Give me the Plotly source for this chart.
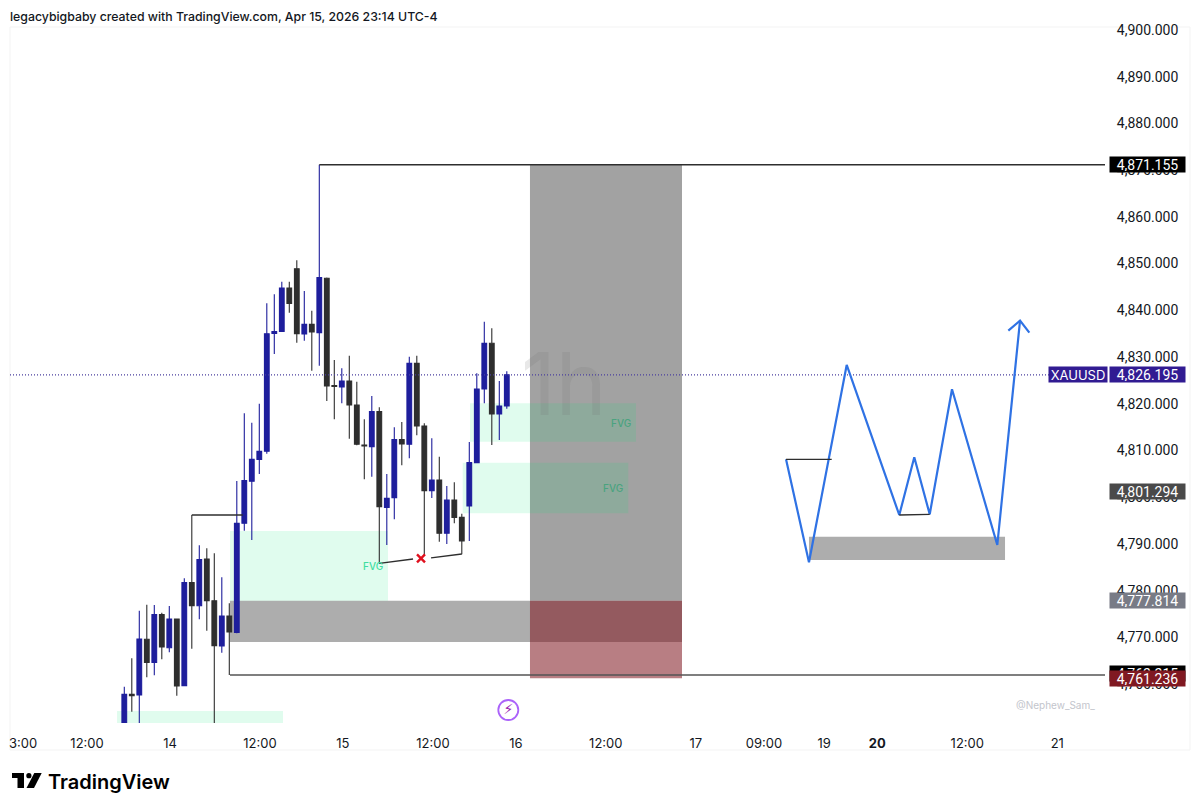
"""XAUUSD 1h TradingView snapshot with FVG zones and a projected path."""
import plotly.graph_objects as go

# candles (bar index = position in these lists)
bar_open = [4748.0, 4757.80, 4757.66, 4769.58, 4764.65, 4774.86, 4767.79, 4773.93, 4759.66, 4781.71,
            4776.78, 4786.77, 4777.85, 4768.15, 4774.57, 4771.07, 4794.41, 4803.40, 4808.10, 4809.82,
            4835.07, 4835.5, 4844.78, 4848.91, 4834.93, 4837.0, 4835.22, 4846.85, 4823.9, 4823.59,
            4824.87, 4819.74, 4811.17, 4810.82, 4818.31, 4797.83, 4799.9, 4812.32, 4811.32, 4828.65,
            4815.24, 4801.4, 4803.68, 4792.27, 4799.4, 4795.69, 4798.12, 4807.39, 4823.16, 4832.94,
            4817.81, 4819.52]
bar_high = [4759.44, 4765.51, 4775.71, 4777.0, 4776.93, 4775.28, 4776.71, 4773.93, 4782.63, 4796.19,
            4789.70, 4789.05, 4787.98, 4782.85, 4777.28, 4803.47, 4817.95, 4815.95, 4820.02, 4841.49,
            4843.42, 4846.13, 4846.13, 4850.7, 4844.13, 4839.92, 4871.155, 4847.0, 4829.37, 4827.58,
            4830.3, 4824.73, 4816.67, 4821.66, 4819.24, 4804.97, 4814.96, 4816.1, 4830.08, 4830.3,
            4815.81, 4812.6, 4808.68, 4802.4, 4803.18, 4796.48, 4811.82, 4826.51, 4837.57, 4836.15,
            4824.87, 4826.94]
bar_low = [4747.0, 4754.09, 4745.0, 4761.44, 4761.87, 4765.30, 4766.79, 4757.52, 4759.66, 4767.58,
           4773.86, 4771.43, 4745.0, 4766.72, 4761.94, 4770.86, 4792.84, 4790.84, 4804.96, 4809.32,
           4830.65, 4835.5, 4839.5, 4833.08, 4833.5, 4827.08, 4828.15, 4820.59, 4816.67, 4820.09,
           4812.53, 4811.1, 4803.83, 4804.4, 4785.85, 4789.77, 4795.26, 4806.82, 4808.32, 4813.24,
           4787.63, 4799.83, 4790.48, 4789.98, 4794.41, 4787.77, 4790.63, 4807.39, 4820.09, 4811.17,
           4812.24, 4818.95]
bar_close = [4757.80, 4757.50, 4769.65, 4764.65, 4774.86, 4767.94, 4773.93, 4759.59, 4781.71, 4776.78,
             4786.63, 4777.85, 4768.22, 4774.57, 4771.15, 4794.41, 4803.54, 4808.10, 4809.82, 4835.0,
             4835.43, 4844.78, 4841.49, 4835.0, 4837.0, 4835.36, 4846.99, 4823.8, 4823.7, 4824.87,
             4819.74, 4811.32, 4810.96, 4818.31, 4797.98, 4799.76, 4812.32, 4811.39, 4828.65, 4815.24,
             4801.4, 4803.68, 4792.27, 4799.4, 4795.69, 4790.63, 4807.39, 4823.16, 4832.94, 4817.81,
             4819.52, 4826.195]

# axes
x_tick_vals = [-13.5, -4.97, 6.09, 18.09, 29.15, 41.15, 52.2, 64.2, 76.2, 85.3, 93.3, 100.4, 112.4, 124.4]
x_tick_text = ["3:00", "12:00", "14", "12:00", "15", "12:00", "16", "12:00", "17", "09:00", "19",
               "<b>20</b>", "12:00", "21"]
y_tick_vals = list(range(4760, 4901, 10))
X_RANGE = [-15.24, 130.76]
Y_RANGE = [4751.67, 4900.64]

# levels
level_top = 4871.155
level_last = 4826.195
level_mid = 4801.294
level_entry = 4777.814
level_black = 4762.215
level_low_line = 4761.94
level_stop = 4761.236
level_swing = 4796.19

# zones: x0, x1, y0, y1
fvg_zones = [(14.09, 35.16, 4777.814, 4792.76),
             (-0.97, 21.16, 4751.67, 4754.24),
             (46.09, 68.23, 4811.88, 4820.1),
             (45.12, 67.2, 4796.55, 4807.38)]
fvg_label_x = [33.15, 66.22, 65.15]
fvg_label_y = [4785.36, 4815.89, 4801.99]
grey_zone = (14.09, 74.36, 4769.0, level_entry)
position_box = (54.09, 74.36, level_entry, level_top)
stop_box = (54.09, 74.36, level_stop, level_entry)
target_box = (91.29, 117.43, 4786.56, 4791.55)

# projected path
path_x = [88.23, 91.29, 96.32, 103.33, 105.33, 107.39, 110.36, 116.4, 119.43]
path_y = [4808.11, 4786.07, 4828.3, 4796.19, 4808.54, 4796.34, 4823.1, 4789.77, 4837.78]
head_x = [117.87, 119.43, 120.67]
head_y = [4835.64, 4837.78, 4835.21]

INK = "#131722"
BLUE = "#1e1e9c"
DARK = "#2e2e2e"
PATH_BLUE = "#2f72e4"
FONT = "Inter"
PRICE_FONT = "Roboto"


# page pixels -> paper fractions (pane runs 10..1105 across, 27..723 down; body margin is 8px)
def fx(px):
    return (px - 10) / 1095


def fy(py):
    return (723 - py) / 696


def line_trace(xs, ys, color=DARK, width=1.3, dash="solid"):
    return go.Scatter(x=xs, y=ys, mode="lines", line=dict(color=color, width=width, dash=dash),
                      showlegend=False, hoverinfo="skip")


def tag(price, text, color, px_left=1109, px_right=1186, family=PRICE_FONT, size=14):
    # annotation box grows by 2px of pad and border on each side
    return dict(xref="paper", yref="y", x=fx((px_left + px_right) / 2), y=price, xanchor="center", yanchor="middle",
                text=text, showarrow=False, width=px_right - px_left - 4, height=13, bgcolor=color,
                font=dict(family=family, size=size, color="white"), borderpad=1)


fig = go.Figure()

# watermark sits under everything else in the trace stack
fig.add_trace(go.Scatter(x=[58.6], y=[4822.2], mode="text", text=["1h"], showlegend=False, hoverinfo="skip",
                         textfont=dict(family=FONT, size=86, color="rgba(110,110,110,0.16)")))

fig.add_trace(line_trace([26, X_RANGE[1]], [level_top, level_top]))
fig.add_trace(line_trace([14.09, X_RANGE[1]], [level_low_line, level_low_line], color="#555555"))
fig.add_trace(line_trace([9, 15.8], [level_swing, level_swing]))
fig.add_trace(line_trace(X_RANGE, [level_last, level_last], color="#4a3f9e", width=1.2, dash="1px,2px"))
fig.add_trace(line_trace([34, 38.5], [4785.85, 4786.77]))
fig.add_trace(line_trace([40.9, 45], [4786.99, 4787.84]))

fig.add_trace(go.Candlestick(
    x=list(range(len(bar_open))), open=bar_open, high=bar_high, low=bar_low, close=bar_close,
    increasing=dict(line=dict(color=BLUE, width=1.1), fillcolor=BLUE),
    decreasing=dict(line=dict(color=DARK, width=1.1), fillcolor=DARK),
    whiskerwidth=0, showlegend=False, hoverinfo="skip",
))

fig.add_trace(go.Scatter(x=[39.56], y=[4786.9], mode="markers", showlegend=False, hoverinfo="skip",
                         marker=dict(symbol="x-thin", size=8, line=dict(color="#e0101e", width=2.4))))

# projected path and the arrow head on it
fig.add_trace(line_trace(path_x, path_y, color=PATH_BLUE, width=2.2))
fig.add_trace(line_trace(head_x, head_y, color=PATH_BLUE, width=2.2))
fig.add_trace(line_trace([88.23, 94.32], [4808.11, 4808.11]))
fig.add_trace(line_trace([103.33, 107.39], [4796.19, 4796.34]))

# bolt badge under session 16
fig.add_trace(go.Scatter(x=[51.2], y=[4754.45], mode="markers+text", text=["⚡"], textposition="middle center",
                         showlegend=False, hoverinfo="skip",
                         textfont=dict(family="DejaVu Sans", size=14, color="#9c27b0"),
                         marker=dict(symbol="circle-open", size=20, line=dict(color="#9c27b0", width=1.8))))

shapes = [dict(type="rect", x0=grey_zone[0], x1=grey_zone[1], y0=grey_zone[2], y1=grey_zone[3],
               layer="below", line_width=0, fillcolor="#adadad")]
shapes.append(dict(type="rect", x0=position_box[0], x1=position_box[1], y0=position_box[2], y1=position_box[3],
                   layer="below", line_width=0, fillcolor="rgba(100,100,100,0.6)"))
for x0, x1, y0, y1 in fvg_zones:
    shapes.append(dict(type="rect", x0=x0, x1=x1, y0=y0, y1=y1, layer="below", line_width=0,
                       fillcolor="rgba(0,230,118,0.12)"))
shapes.append(dict(type="rect", x0=stop_box[0], x1=stop_box[1], y0=stop_box[2], y1=stop_box[3],
                   layer="below", line_width=0, fillcolor="rgba(128,25,34,0.56)"))
shapes.append(dict(type="rect", x0=target_box[0], x1=target_box[1], y0=target_box[2], y1=target_box[3],
                   layer="below", line_width=0, fillcolor="#adadad"))

# faint frame round the pane and price scale
shapes.append(dict(type="rect", xref="paper", yref="paper", x0=fx(10), x1=fx(1190), y0=fy(750), y1=fy(27),
                   line=dict(color="#f3f3f3", width=1), layer="below"))

# TradingView mark, drawn in page pixels
logo = [[(12, 773), (24, 773), (24, 788), (17.5, 788), (17.5, 778), (12, 778)],
        [(34.3, 773), (41.7, 773), (34, 788), (26.5, 788)]]
for poly in logo:
    d = "M " + " L ".join(f"{fx(px):.5f} {fy(py):.5f}" for px, py in poly) + " Z"
    shapes.append(dict(type="path", xref="paper", yref="paper", path=d, fillcolor="#000000", line_width=0))
shapes.append(dict(type="circle", xref="paper", yref="paper", x0=fx(26.3), x1=fx(31.5), y0=fy(778.3), y1=fy(773),
                   fillcolor="#000000", line_width=0))

annotations = [
    dict(xref="paper", yref="paper", x=fx(8), y=fy(17), xanchor="left", yanchor="middle",
         text="legacybigbaby created with TradingView.com, Apr 15, 2026 23:14 UTC-4",
         showarrow=False, font=dict(family=FONT, size=12.3, color=INK, weight=500)),
    dict(xref="paper", yref="paper", x=fx(46), y=fy(782), xanchor="left", yanchor="middle", text="TradingView",
         showarrow=False, font=dict(family=FONT, size=20, color="#000000", weight=600)),
    dict(xref="paper", yref="paper", x=fx(1097), y=fy(705), xanchor="right", yanchor="middle", text="@Nephew_Sam_",
         showarrow=False, font=dict(family=FONT, size=10, color="#c3c5cc")),
    tag(level_top, "4,871.155", "#000000"),
    tag(level_last, "4,826.195", "#311b92"),
    tag(level_last, "XAUUSD", "#311b92", px_left=1048, px_right=1108, family=FONT, size=13),
    tag(level_mid, "4,801.294", "#4a4a4a"),
    tag(level_entry, "4,777.814", "#787b86"),
    tag(level_black, "4,762.215", "#000000"),
    tag(level_stop, "4,761.236", "#801922"),
]
for i, (fvg_x, fvg_y) in enumerate(zip(fvg_label_x, fvg_label_y)):
    annotations.append(dict(x=fvg_x, y=fvg_y, text="FVG", showarrow=False,
                            font=dict(family=FONT, size=10, color="#3fdda0" if i == 0 else "#4aa37f", weight=500)))

fig.update_layout(
    width=1192, height=803, margin=dict(l=2, r=95, t=19, b=88),
    paper_bgcolor="white", plot_bgcolor="white", showlegend=False,
    shapes=shapes, annotations=annotations, boxgap=0.1, boxgroupgap=0.3,
    font=dict(family=FONT, color=INK),
    xaxis=dict(range=X_RANGE, tickmode="array", tickvals=x_tick_vals, ticktext=x_tick_text,
               showgrid=False, zeroline=False, showline=False, ticks="outside", ticklen=8, tickcolor="rgba(0,0,0,0)",
               tickfont=dict(family=FONT, size=13, color=INK), rangeslider=dict(visible=False)),
    yaxis=dict(range=Y_RANGE, side="right", tickmode="array", tickvals=y_tick_vals, tickformat=",.3f",
               showgrid=False, zeroline=False, showline=False, ticks="outside", ticklen=8, tickcolor="rgba(0,0,0,0)",
               tickfont=dict(family=PRICE_FONT, size=14, color=INK)),
)

fig.write_html("out.html")
